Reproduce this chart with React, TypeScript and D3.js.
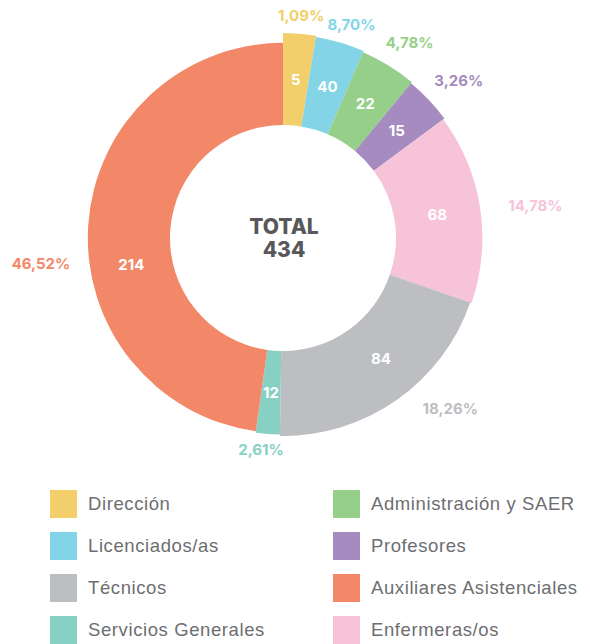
import React from "react";
import * as d3 from "d3";

const categories = [
  "Dirección",
  "Licenciados/as",
  "Administración y SAER",
  "Profesores",
  "Enfermeras/os",
  "Técnicos",
  "Servicios Generales",
  "Auxiliares Asistenciales",
];
const counts = [5, 40, 22, 15, 68, 84, 12, 214];
const percentLabels = ["1,09%", "8,70%", "4,78%", "3,26%", "14,78%", "18,26%", "2,61%", "46,52%"];
// angular share of each slice as drawn in the picture (degrees)
const drawnShares = [9.3, 14, 16.3, 13.9, 55.5, 71.9, 7.1, 172];
const colors = ["#F2CF6B", "#83D4E6", "#95CF8A", "#A58BC0", "#F7C3D8", "#BDBEC1", "#86D0C4", "#F38869"];
const totalTitle = "TOTAL";
const totalValue = "434";
const legendLeft = ["Dirección", "Licenciados/as", "Técnicos", "Servicios Generales"];
const legendRight = ["Administración y SAER", "Profesores", "Auxiliares Asistenciales", "Enfermeras/os"];

// layout tweaks (not data)
const labelNudge: Record<string, number> = { "Auxiliares Asistenciales": -14, "Técnicos": -4 };
const pctNudge: Record<string, number> = { "Auxiliares Asistenciales": -10, "Técnicos": -9.4, "Dirección": 0 };
const pctRadial: Record<string, number> = { "Enfermeras/os": 11, "Servicios Generales": -11, "Licenciados/as": -4 };

const W = 590;
const H = 644;
const cx = 283;
const cy = 238;
const innerR = 113;
const outerR = (i: number) => 205 - i * 1.4;
const boldFont = "Inter, 'Open Sans', sans-serif";
const deg = Math.PI / 180;

export default function App() {
  const rows = categories.map((c, i) => ({
    name: c,
    count: counts[i],
    pct: percentLabels[i],
    share: drawnShares[i],
    color: colors[i],
    i,
  }));
  const pie = d3
    .pie<any>()
    .sort(null)
    .value((d) => d.share);
  const arcs = pie(rows);

  const colorOf = (name: string) => colors[categories.indexOf(name)];

  return (
    <div style={{ position: "absolute", left: 0, top: 0, width: W, height: H, background: "#fff" }}>
      <svg width={W} height={H} style={{ display: "block" }}>
        <g transform={`translate(${cx},${cy})`}>
          {arcs.map((a, k) => {
            const arcGen = d3
              .arc<any>()
              .innerRadius(innerR)
              .outerRadius(outerR(a.data.i));
            return <path key={k} d={arcGen(a) || ""} fill={a.data.color} />;
          })}
          {arcs.map((a, k) => {
            const ang = (a.startAngle + a.endAngle) / 2 + (labelNudge[a.data.name] || 0) * deg;
            const r = (innerR + outerR(a.data.i)) / 2;
            return (
              <text
                key={"v" + k}
                x={r * Math.sin(ang)}
                y={-r * Math.cos(ang)}
                textAnchor="middle"
                dominantBaseline="central"
                fill="#fff"
                fontFamily={boldFont}
                fontWeight={700}
                fontSize={15}
              >
                {a.data.count}
              </text>
            );
          })}
          {arcs.map((a, k) => {
            const n = pctNudge[a.data.name];
            const ang = (a.startAngle + a.endAngle) / 2 + (n === undefined ? 1.5 : n) * deg;
            const hw = (a.data.pct.length * 0.62 * 15) / 2;
            const hh = 6;
            const R =
              215 + (pctRadial[a.data.name] || 0) + hw * Math.abs(Math.sin(ang)) + hh * Math.abs(Math.cos(ang));
            return (
              <text
                key={"p" + k}
                x={R * Math.sin(ang)}
                y={-R * Math.cos(ang)}
                textAnchor="middle"
                dominantBaseline="central"
                fill={a.data.color}
                fontFamily={boldFont}
                fontWeight={700}
                fontSize={15}
              >
                {a.data.pct}
              </text>
            );
          })}
          <text x={1} y={-4} textAnchor="middle" fill="#58585A" fontFamily={boldFont} fontWeight={800} fontSize={21}>
            {totalTitle}
          </text>
          <text x={1} y={19} textAnchor="middle" fill="#58585A" fontFamily={boldFont} fontWeight={800} fontSize={21}>
            {totalValue}
          </text>
        </g>
        {[legendLeft, legendRight].map((col, ci) =>
          col.map((name, ri) => {
            const sx = ci === 0 ? 50 : 333;
            const sy = 490 + ri * 42;
            return (
              <g key={name}>
                <rect x={sx} y={sy} width={27} height={28} fill={colorOf(name)} />
                <text
                  x={sx + 38}
                  y={sy + 20}
                  fill="#6d6e71"
                  fontFamily="'Liberation Sans', Arial, sans-serif"
                  fontSize={18.5}
                  letterSpacing={0.6}
                >
                  {name}
                </text>
              </g>
            );
          })
        )}
      </svg>
    </div>
  );
}
